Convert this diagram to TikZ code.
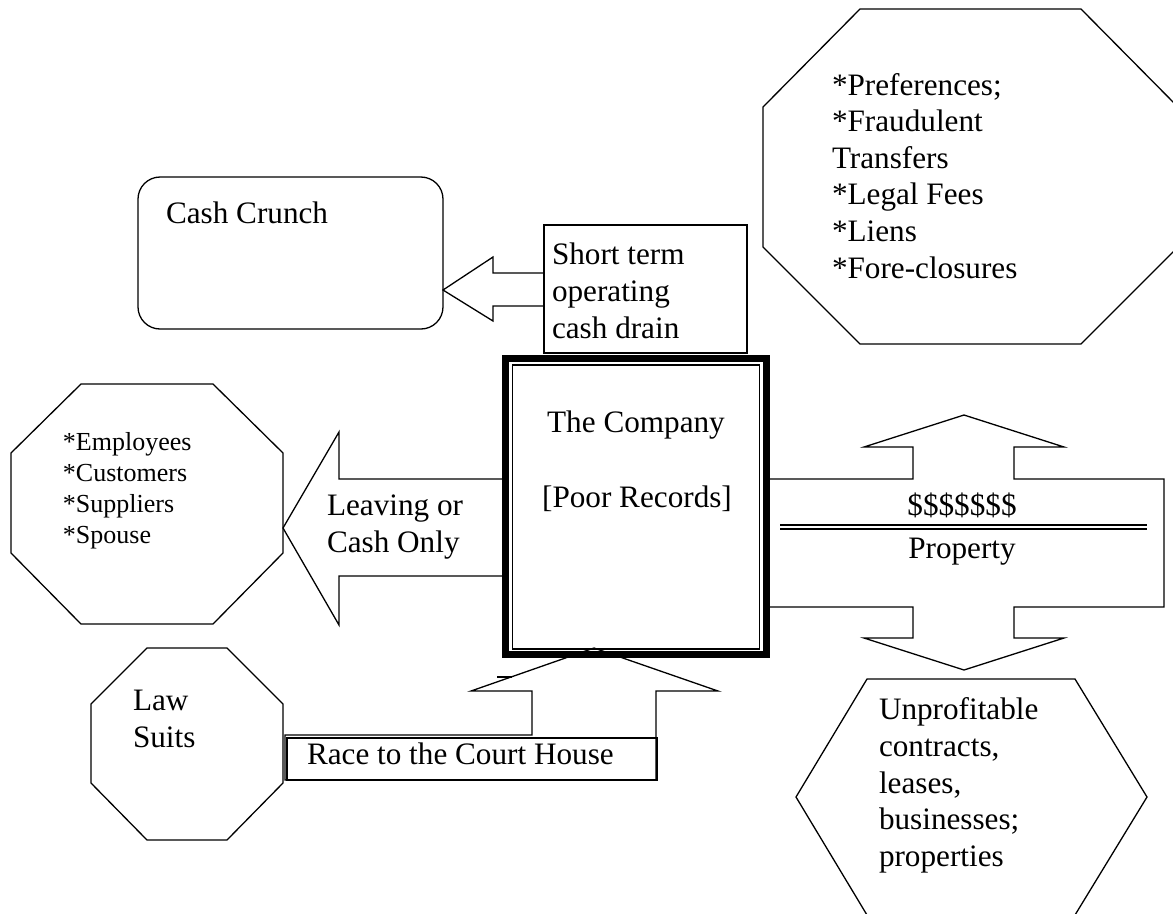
\documentclass[tikz,border=0pt]{standalone}
\usepackage{fontspec}
\setmainfont{Liberation Serif}
\begin{document}
\begin{tikzpicture}[x=0.3846pt,y=-0.3846pt,
  outline/.style={draw=black,line width=0.5pt,line join=miter},
  txt/.style={inner sep=0pt,outer sep=0pt,align=left,anchor=base west,font=\fontsize{12}{14.1}\selectfont},
  smalltxt/.style={txt,font=\fontsize{10}{11.8}\selectfont},
  ctxt/.style={inner sep=0pt,outer sep=0pt,anchor=base,font=\fontsize{12}{14.1}\selectfont}]
\useasboundingbox (0,0) rectangle (1173,913);
\clip (0,0) rectangle (1173,913);
% (multi-line text nodes are placed by the baseline of their last line)

% Cash Crunch rounded box
\draw[outline,rounded corners=8.5pt] (138,177) rectangle (443,329);
\node[txt] (cash) at (166,223) {Cash Crunch};

% Short term box and arrow to Cash Crunch
\draw[outline] (544,225) rectangle (747,353);
\draw[outline] (544,273) -- (493,273) -- (493,257) -- (443,290) -- (493,321) -- (493,306) -- (544,306);
\node[txt] (short) at (552,338.3) {Short term\\operating\\cash drain};

% Top right octagon
\draw[outline] (860,9) -- (1081,9) -- (1178,107) -- (1178,247) -- (1081,344) -- (860,344) -- (763,247) -- (763,107) -- cycle;
\node[txt] (prefs) at (832,278.3) {*Preferences;\\*Fraudulent\\Transfers\\*Legal Fees\\*Liens\\*Fore-closures};

% Employees octagon
\draw[outline] (81,384) -- (213,384) -- (283,453) -- (283,553) -- (213,624) -- (81,624) -- (11,553) -- (11,453) -- cycle;
\node[smalltxt] (empl) at (63,543) {*Employees\\*Customers\\*Suppliers\\*Spouse};

% Leaving arrow
\draw[outline] (506,479) -- (339,479) -- (339,432) -- (283,528) -- (339,625) -- (339,576) -- (506,576);
\node[txt] (leaving) at (327,552) {Leaving or\\Cash Only};

% Law Suits octagon
\draw[outline] (147,648) -- (227,648) -- (283,704) -- (283,783) -- (227,840) -- (147,840) -- (91,783) -- (91,704) -- cycle;
\node[txt] (law) at (133,747) {Law\\Suits};

% Race to the Court House arrow
\draw[outline] (285,735) -- (532,735) -- (532,691) -- (471,691) -- (594,648) -- (718,691) -- (656,691) -- (656,780) -- (285,780) -- cycle;
\draw[outline] (287,738) rectangle (657,780);
\draw[line width=0.5pt] (497,677) -- (512,677);
\node[txt] (race) at (307,764) {Race to the Court House};

% Property up-down arrow
\draw[outline] (765,479) -- (913,479) -- (913,447) -- (864,447) -- (964,415) -- (1064,447) -- (1014,447) -- (1014,479) -- (1164,479) -- (1164,607) -- (1014,607) -- (1014,638) -- (1064,638) -- (964,670) -- (864,638) -- (913,638) -- (913,607) -- (765,607) -- cycle;
\draw[line width=0.6pt] (780,525) -- (1147,525);
\draw[line width=0.6pt] (780,529) -- (1147,529);
\node[ctxt] (dollars) at (962,515) {\$\$\$\$\$\$\$};
\node[ctxt] (property) at (962,558) {Property};

% Unprofitable hexagon
\draw[outline] (867,679) -- (1075,679) -- (1147,797) -- (1075,915) -- (867,915) -- (796,797) -- cycle;
\node[txt] (unprof) at (879,866.6) {Unprofitable\\contracts,\\leases,\\businesses;\\properties};

% The Company box (thick-thin frame)
\draw[line width=2.7pt] (505.5,358.5) rectangle (766.5,654.5);
\draw[line width=0.45pt] (512.5,365) rectangle (759.5,649);
\node[ctxt] (company) at (636,432) {The Company};
\node[ctxt] (records) at (637,507) {[Poor Records]};
\end{tikzpicture}
\end{document}
